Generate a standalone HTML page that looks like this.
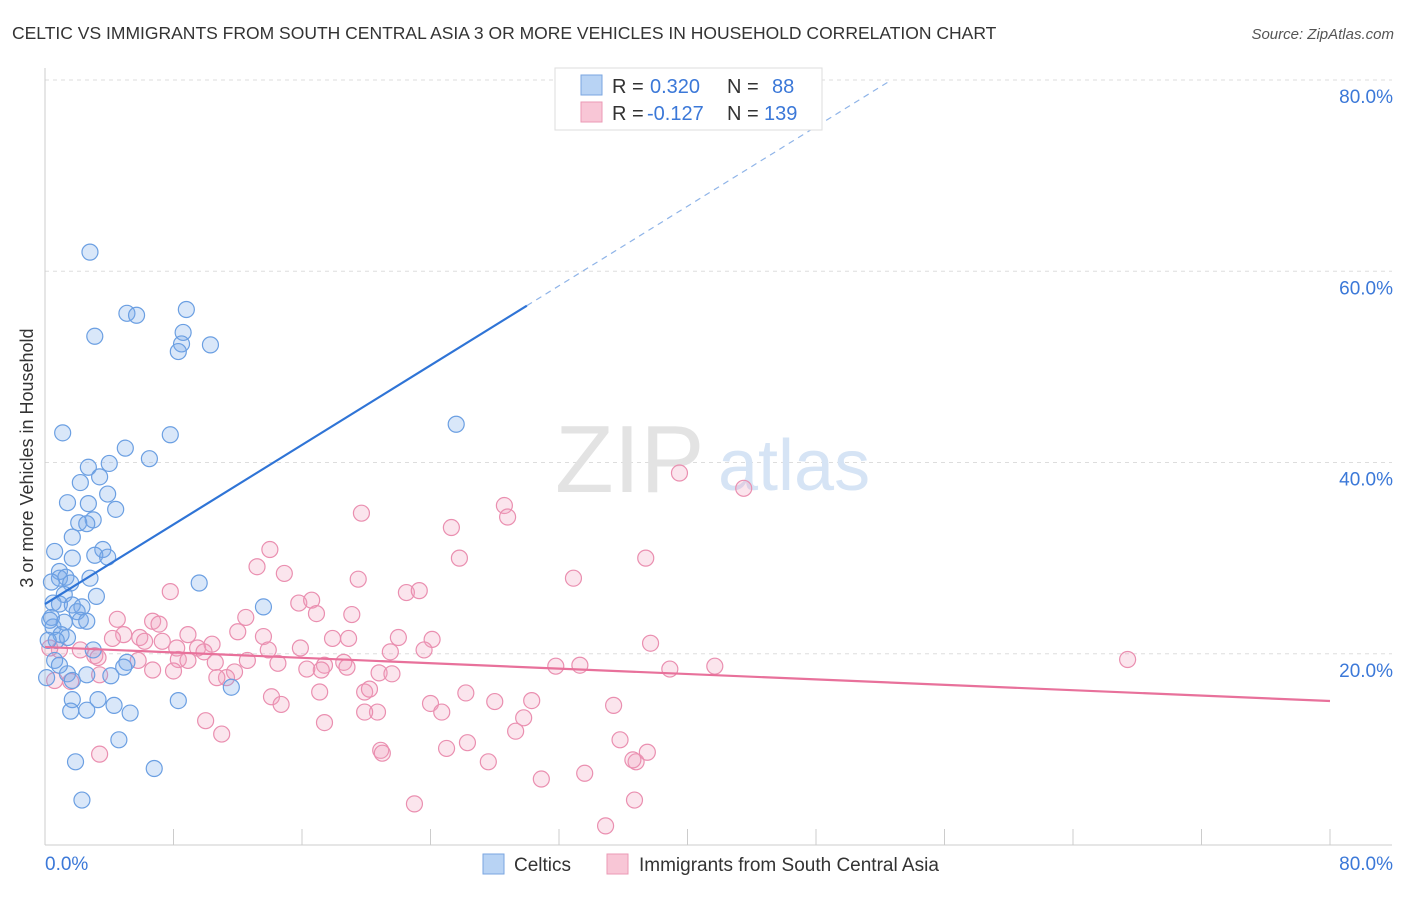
<!DOCTYPE html>
<html><head><meta charset="utf-8"><style>
body{margin:0;background:#fff;font-family:"Liberation Sans",sans-serif;}
svg text{font-family:"Liberation Sans",sans-serif;}
</style></head><body>
<svg id="chart" width="1406" height="892" xmlns="http://www.w3.org/2000/svg">
<text x="12" y="39" font-size="17.5" fill="#333">CELTIC VS IMMIGRANTS FROM SOUTH CENTRAL ASIA 3 OR MORE VEHICLES IN HOUSEHOLD CORRELATION CHART</text>
<text x="1394" y="39" font-size="15" fill="#555" text-anchor="end" font-style="italic">Source: ZipAtlas.com</text>
<g id="grid"></g>
<text x="555" y="492" font-size="96" font-family="Liberation Serif" fill="#e3e3e3">ZIP</text>
<text x="718" y="490" font-size="72" fill="#d6e4f5">atlas</text>
<g id="axes"></g>
<g id="points"></g>
<g id="lines"></g>
<text transform="translate(33,458) rotate(-90)" font-size="18" fill="#333" text-anchor="middle">3 or more Vehicles in Household</text>
<g>
<rect x="555" y="68" width="267" height="62" fill="#fff" stroke="#ddd"/>
<rect x="581" y="75" width="21" height="20" fill="#b8d3f4" stroke="#7aa6e0"/>
<rect x="581" y="102" width="21" height="20" fill="#f8c6d6" stroke="#eb9ab5"/>
<text x="612" y="93" font-size="20" fill="#333">R =</text><text x="650" y="93" font-size="20" fill="#3b78d8">0.320</text>
<text x="727" y="93" font-size="20" fill="#333">N =</text><text x="772" y="93" font-size="20" fill="#3b78d8">88</text>
<text x="612" y="120" font-size="20" fill="#333">R =</text><text x="647" y="120" font-size="20" fill="#3b78d8">-0.127</text>
<text x="727" y="120" font-size="20" fill="#333">N =</text><text x="764" y="120" font-size="20" fill="#3b78d8">139</text>
</g>
<g>
<rect x="483" y="854" width="21" height="20" fill="#b8d3f4" stroke="#7aa6e0"/>
<text x="514" y="871" font-size="19" fill="#333">Celtics</text>
<rect x="607" y="854" width="21" height="20" fill="#f8c6d6" stroke="#eb9ab5"/>
<text x="639" y="871" font-size="19" fill="#333">Immigrants from South Central Asia</text>
</g>
</svg>
<script>
const blueX=[2.8,5.1,5.7,8.8,3.1,8.6,8.5,8.3,10.3,25.6,1.1,7.8,5.0,6.5,4.0,2.7,3.4,2.2,3.9,1.4,2.7,4.4,3.0,2.1,2.6,3.6,1.7,0.6,1.7,3.1,3.9,0.9,0.9,1.3,2.8,1.6,0.4,9.6,1.2,3.2,0.5,0.9,1.7,2.3,2.0,13.6,0.4,2.2,2.6,1.2,0.5,1.0,1.4,0.7,3.0,5.1,4.9,1.4,1.7,2.6,4.1,11.6,3.3,8.3,1.7,1.6,2.6,4.3,5.3,4.6,1.9,6.8,2.3,0.3,0.2,0.6,0.9,0.1];
const blueY=[62.0,55.6,55.4,56.0,53.2,53.6,52.4,51.6,52.3,44.0,43.1,42.9,41.5,40.4,39.9,39.5,38.5,37.9,36.7,35.8,35.7,35.1,34.0,33.7,33.6,30.9,32.2,30.7,30.0,30.3,30.1,28.6,27.9,28.0,27.9,27.4,27.5,27.4,26.2,26.0,25.3,25.2,25.1,24.9,24.4,24.9,23.8,23.5,23.4,23.3,22.8,22.0,21.7,21.4,20.4,19.1,18.6,17.9,17.2,17.8,17.7,16.5,15.2,15.1,15.2,14.0,14.1,14.6,13.8,11.0,8.7,8.0,4.7,23.5,21.4,19.3,18.8,17.5];
const pinkX=[39.5,43.5,28.6,28.8,19.7,25.3,25.8,37.4,14.0,13.2,14.9,32.9,19.5,7.8,22.5,23.3,15.8,16.6,16.9,19.1,12.5,4.5,6.7,7.1,8.9,4.9,5.9,4.2,6.2,7.3,22.0,24.1,18.9,17.9,13.6,12.0,10.4,37.7,9.5,8.2,23.6,15.9,13.9,21.5,9.9,2.2,3.1,3.3,5.8,8.3,8.9,10.6,12.6,14.5,18.6,17.4,18.8,17.2,16.3,20.8,21.6,31.8,33.3,38.9,41.7,67.4,11.8,8.0,11.3,10.7,6.7,3.4,1.6,14.1,14.7,17.1,19.9,20.2,26.2,24.0,24.7,28.0,30.3,29.8,20.7,17.4,10.0,11.0,19.9,35.4,26.3,25.0,29.3,35.8,20.9,21.0,27.6,30.9,33.6,36.8,37.5,36.6,23.0,36.7,34.9,3.4,0.6,0.9,0.3];
const pinkY=[38.9,37.3,35.5,34.3,34.7,33.2,30.0,30.0,30.9,29.1,28.4,27.9,27.8,26.5,26.4,26.6,25.3,25.6,24.2,24.1,23.8,23.6,23.4,23.1,22.0,22.0,21.7,21.6,21.3,21.3,21.7,21.5,21.6,21.6,21.8,22.3,21.0,21.1,20.6,20.6,20.4,20.6,20.4,20.2,20.2,20.4,19.8,19.6,19.3,19.4,19.3,19.1,19.3,19.0,19.1,18.8,18.6,18.3,18.4,18.0,17.9,18.7,18.8,18.4,18.7,19.4,18.1,18.2,17.5,17.5,18.3,17.8,17.1,15.5,14.7,16.0,16.0,16.3,15.9,14.8,13.9,15.0,15.1,13.3,13.9,12.8,13.0,11.6,13.9,14.6,10.7,10.1,11.9,11.0,9.9,9.6,8.7,6.9,7.5,8.7,9.7,8.9,4.3,4.7,2.0,9.5,17.2,20.4,20.6];
const yTicks=[20,40,60,80];
const xTickLabels=["0.0%","80.0%"];
const blueTrend=[25.2,1.04];   // intercept, slope
const pinkTrend=[20.7,-0.0705];
const NS="http://www.w3.org/2000/svg";
const X=v=>45+v*(1285/80), Y=v=>845-v*(765/80);
function mk(tag,attrs,parent){const e=document.createElementNS(NS,tag);for(const k in attrs)e.setAttribute(k,attrs[k]);parent.appendChild(e);return e;}
const grid=document.getElementById('grid'),axes=document.getElementById('axes'),pts=document.getElementById('points'),lines=document.getElementById('lines');
yTicks.forEach(t=>{
 const l=mk('line',{x1:45,x2:1392,y1:Y(t),y2:Y(t),stroke:'#ddd','stroke-dasharray':'4,4'},grid);
 
 
 const tx=mk('text',{x:1393,y:Y(t)+23,'font-size':19,fill:'#3b78d8','text-anchor':'end'},axes);
 tx.textContent=t.toFixed(1)+'%';
 
 
});
mk('line',{x1:45,x2:45,y1:68,y2:845,stroke:'#ccc'},axes);
mk('line',{x1:45,x2:1392,y1:845,y2:845,stroke:'#ccc'},axes);
for(let i=0;i<=10;i++){mk('line',{x1:X(i*8),x2:X(i*8),y1:829,y2:845,stroke:'#ccc'},axes);}
const xl0=mk('text',{x:45,y:870,'font-size':19,fill:'#3b78d8'},axes);xl0.textContent=xTickLabels[0];


const xl1=mk('text',{x:1393,y:870,'font-size':19,fill:'#3b78d8','text-anchor':'end'},axes);xl1.textContent=xTickLabels[1];


function dots(xs,ys,fill,stroke,name){xs.forEach((x,i)=>{
 const c=mk('circle',{cx:X(x),cy:Y(ys[i]),r:8,fill:fill,stroke:stroke,'stroke-width':1.2},pts);
 
 
});}
dots(pinkX,pinkY,'rgba(242,160,190,0.28)','#ea8fb0','point-immigrants');
dots(blueX,blueY,'rgba(120,170,232,0.28)','#6b9fe2','point-celtics');
const bx1=30,bx2=(80-blueTrend[0])/blueTrend[1];
const b1=mk('line',{x1:X(0),y1:Y(blueTrend[0]),x2:X(bx1),y2:Y(blueTrend[0]+blueTrend[1]*bx1),stroke:'#2f74d6','stroke-width':2.2},lines);


const b2=mk('line',{x1:X(bx1),y1:Y(blueTrend[0]+blueTrend[1]*bx1),x2:X(bx2),y2:Y(80),stroke:'#8fb4e8','stroke-width':1.2,'stroke-dasharray':'6,5'},lines);


const p1=mk('line',{x1:X(0),y1:Y(pinkTrend[0]),x2:X(80),y2:Y(pinkTrend[0]+pinkTrend[1]*80),stroke:'#e8719b','stroke-width':2.2},lines);


</script>
</body></html>
